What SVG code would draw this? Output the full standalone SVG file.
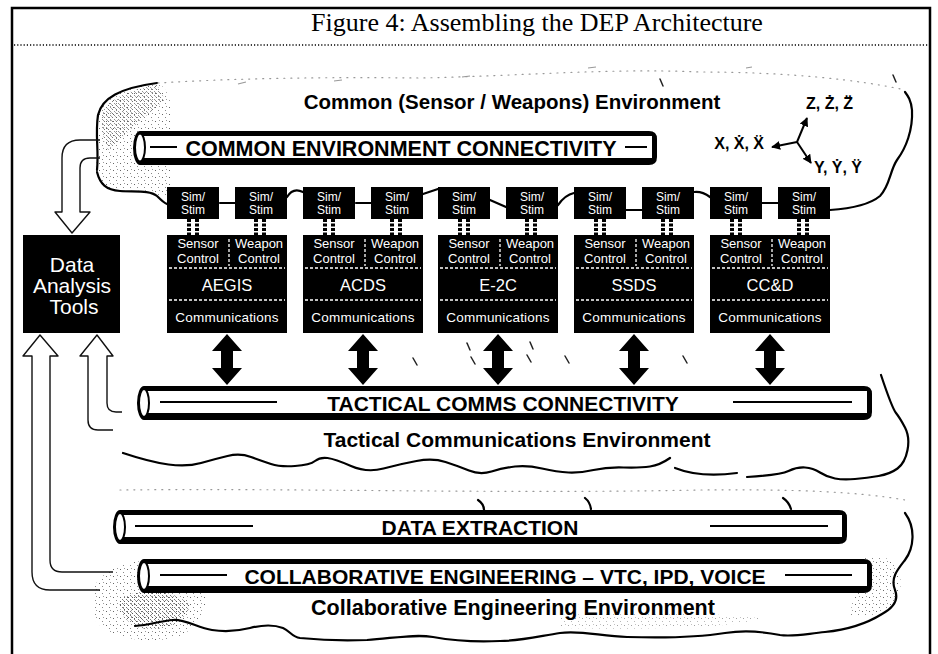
<svg xmlns="http://www.w3.org/2000/svg" width="938" height="654" viewBox="0 0 938 654">
<defs>
<style>
.blk{fill:#000}
.wt{fill:#fff;font-family:"Liberation Sans","DejaVu Sans",sans-serif;text-anchor:middle}
.sim{font-size:12px}
.ctl{font-size:13px}
.nm{font-size:16.5px}
.com{font-size:13.5px;letter-spacing:0.2px}
.wdash{stroke:#fff;stroke-width:1.3;stroke-dasharray:3 2;fill:none}
.stub{stroke:#000;stroke-width:4;stroke-dasharray:3 1.5}
.lbl{font-family:"Liberation Sans","DejaVu Sans",sans-serif;font-weight:bold;fill:#000;text-anchor:middle}
.pipe{fill:#000}
.pin{fill:#fff}
.pend{fill:#fff;stroke:#000;stroke-width:2}
.pline{stroke:#000;stroke-width:2}
.cloud{fill:none;stroke:#000;stroke-width:2.2;stroke-linecap:round;stroke-linejoin:round}
.dots{fill:none;stroke:#999;stroke-width:1.2;stroke-dasharray:1 6;stroke-linecap:round}
.tick{stroke:#222;stroke-width:1.5;stroke-linecap:round}
.hollow{fill:none;stroke:#111;stroke-width:1.4;stroke-linejoin:round}
.ax{stroke:#000;stroke-width:2;fill:none}
</style>
<pattern id="sp" width="7" height="7" patternUnits="userSpaceOnUse">
<rect x="1" y="2" width="1" height="1" fill="#666"/>
<rect x="4" y="5" width="1" height="1" fill="#888"/>
<rect x="5" y="1" width="1" height="1" fill="#999"/>
</pattern>
<pattern id="sp2" width="4" height="4" patternUnits="userSpaceOnUse">
<rect x="0" y="1" width="1" height="1" fill="#555"/>
<rect x="2" y="3" width="1" height="1" fill="#777"/>
<rect x="3" y="0" width="1" height="1" fill="#999"/>
</pattern>
<marker id="ah" viewBox="0 0 10 10" refX="9" refY="5" markerWidth="4.5" markerHeight="4.5" orient="auto">
<path d="M0,0 L10,5 L0,10 Z" fill="#000"/>
</marker>
</defs>
<rect width="938" height="654" fill="#fff"/>

<g id="frame">
<path d="M12,654 V8 H930 V654" fill="none" stroke="#000" stroke-width="2.5"/>
<line x1="14" y1="45" x2="928" y2="45" stroke="#000" stroke-width="1.3" stroke-dasharray="1.2 2"/>
<text x="537" y="31" style="font-family:'Liberation Serif','DejaVu Serif',serif;font-size:26px;text-anchor:middle;fill:#000">Figure 4: Assembling the DEP Architecture</text>
</g>

<g id="speckle">
<path d="M157,83 C130,86 104,95 98,112 C94,130 100,150 96,165 C95,178 102,188 118,190 C135,191 150,188 160,196 L172,196 L172,125 C172,100 168,88 157,83 Z" fill="url(#sp)"/>
<path d="M157,85 C128,90 106,100 102,115 C100,128 104,140 108,150 C120,140 140,120 165,100 Z" fill="url(#sp2)" opacity="0.8"/>
<path d="M95,585 C110,560 150,555 200,565 C215,590 205,625 180,636 C150,645 110,640 95,620 Z" fill="url(#sp)"/>
<path d="M120,600 C140,585 175,590 190,605 C185,625 160,632 140,628 C125,622 118,612 120,600 Z" fill="url(#sp2)"/>
<path d="M860,560 C880,550 905,560 900,590 C895,610 870,620 850,615 Z" fill="url(#sp)"/>
<path d="M560,615 C620,612 700,612 760,618 C740,628 650,630 560,628 Z" fill="url(#sp)" opacity="0.6"/>
<path d="M157,83 C120,88 102,98 98,115 C95,135 99,150 97,170" class="cloud" stroke="#444" stroke-width="1.4"/>
<path d="M158,83 C240,78 330,77 420,78 C520,76 610,68 700,72 C790,72 860,80 905,90" class="dots"/>
<path d="M120,490 C300,488 500,494 700,490 C800,489 860,492 905,500" class="dots"/>
<path d="M238,84 L246,82 M334,81 L342,80 M462,77 L470,76 M588,68 L596,67 M746,68 L752,67" stroke="#999" stroke-width="1.2"/>
</g>

<g id="clouds">
<path class="cloud" d="M97,172 C100,184 106,190 120,191 C135,192 150,190 157,196 C161,200 164,203 167,204"/>
<path class="cloud" d="M830,210 C845,209 868,206 880,196 C890,186 890,170 897,160 C906,148 913,130 912,110 C911,100 908,96 905,92"/>
<path class="cloud" d="M123,453 Q150,462 168.5,464.5 Q187,467 201,463 Q215,459 227.5,456 Q240,453 251,457 Q262,461 271,464 Q280,467 295,466 Q310,465 315,461 Q320,457 327.5,458 Q335,459 351,466 Q367,473 383.5,468.5 Q400,464 416.5,461 Q433,458 445.5,462 Q458,466 469,470.5 Q480,475 491.5,471.5 Q503,468 515,466.5 Q527,465 542,468.5 Q557,472 568.5,472.5 Q580,473 593.5,470 Q607,467 623.5,467.5 Q640,468 650,466.5 Q660,465 670,458"/>
<path class="cloud" d="M675,468 Q700,478 737,473"/>
<path class="cloud" d="M747,477 Q780,475 788.5,471 Q797,467 805,467.5 Q813,468 820,472.5 Q827,477 835,478.5 Q843,480 855,479 Q867,478 878.5,476 Q890,474 897.5,468.5 Q905,463 907.5,450 Q910,437 905,427.5 Q900,418 896,413 Q892,408 881,375"/>
<path class="cloud" d="M905,513 C916,528 914,548 905,560 C898,569 890,578 895,590 C899,600 893,608 882,614 C866,624 845,630 825,632 C805,634 793,637 780,635 C765,632 745,630 725,633 C700,637 660,638 627,637 C600,636 580,630 560,633 C540,636 520,641 500,641 C480,642 455,641 433,637 C415,634 395,638 367,640 C345,641 320,640 300,638 C292,637 290,631 283,628 C275,625 262,625 250,628 C238,631 225,632 212,630 C198,628 185,619 173,620 C160,621 150,625 135,626"/>
<path class="cloud" stroke-width="1.6" d="M478,500 Q484,504 484,510 M585,498 Q590,502 591,509 M783,498 Q789,502 791,509"/>
<line class="tick" x1="660" y1="79" x2="663" y2="86"/>
<line class="tick" x1="893" y1="75" x2="896" y2="82"/>
<line class="tick" x1="413" y1="358" x2="417" y2="365"/>
<line class="tick" x1="467" y1="343" x2="470" y2="350"/>
<line class="tick" x1="471" y1="357" x2="475" y2="364"/>
<line class="tick" x1="527" y1="355" x2="531" y2="362"/>
<line class="tick" x1="530" y1="342" x2="533" y2="349"/>
<line class="tick" x1="565" y1="356" x2="569" y2="363"/>
<line class="tick" x1="683" y1="356" x2="687" y2="363"/>
</g>

<text class="lbl" x="512" y="109" style="font-size:20.5px">Common (Sensor / Weapons) Environment</text>
<text class="lbl" x="517" y="447" style="font-size:21px">Tactical Communications Environment</text>
<text class="lbl" x="513" y="615" style="font-size:21.5px">Collaborative Engineering Environment</text>

<g id="pipe-common">
<path class="pipe" d="M140,131 H649 Q657,131 657,139 V157 Q657,165 649,165 H140 A7,17 0 0 1 140,131 Z"/>
<rect class="pin" x="141" y="136" width="511" height="22"/>
<ellipse class="pend" cx="140" cy="147.5" rx="5" ry="14"/>
<line class="pline" x1="150" y1="147" x2="177" y2="147"/>
<line class="pline" x1="625" y1="147" x2="647" y2="147"/>
<text class="lbl" x="401" y="155.5" style="font-size:21.5px">COMMON ENVIRONMENT CONNECTIVITY</text>
</g>
<g id="pipe-tactical">
<path class="pipe" d="M144,386 H864 Q872,386 872,394 V412 Q872,420 864,420 H144 A7,17 0 0 1 144,386 Z"/>
<rect class="pin" x="145" y="391" width="722" height="22"/>
<ellipse class="pend" cx="144" cy="403" rx="5" ry="14"/>
<line class="pline" x1="160" y1="402" x2="277" y2="402"/>
<line class="pline" x1="733" y1="402" x2="852" y2="402"/>
<text class="lbl" x="503" y="410.5" style="font-size:21px">TACTICAL COMMS CONNECTIVITY</text>
</g>
<g id="pipe-data">
<path class="pipe" d="M120,510 H839 Q847,510 847,518 V536 Q847,544 839,544 H120 A7,17 0 0 1 120,510 Z"/>
<rect class="pin" x="121" y="515" width="721" height="22"/>
<ellipse class="pend" cx="120" cy="527" rx="5" ry="14"/>
<line class="pline" x1="135" y1="526" x2="253" y2="526"/>
<line class="pline" x1="710" y1="526" x2="828" y2="526"/>
<text class="lbl" x="480" y="534.5" style="font-size:21px">DATA EXTRACTION</text>
</g>
<g id="pipe-collab">
<path class="pipe" d="M144,559 H864 Q872,559 872,567 V585 Q872,593 864,593 H144 A7,17 0 0 1 144,559 Z"/>
<rect class="pin" x="145" y="564" width="722" height="22"/>
<ellipse class="pend" cx="144" cy="576" rx="5" ry="14"/>
<line class="pline" x1="160" y1="575" x2="227" y2="575"/>
<line class="pline" x1="785" y1="575" x2="852" y2="575"/>
<text class="lbl" x="505" y="583.5" style="font-size:21px">COLLABORATIVE ENGINEERING – VTC, IPD, VOICE</text>
</g>

<g id="data-analysis-tools">
<rect class="blk" x="23" y="235" width="97" height="98"/>
<text class="wt" x="72" y="272" style="font-size:21px">Data</text>
<text class="wt" x="72" y="293" style="font-size:21px">Analysis</text>
<text class="wt" x="74" y="314" style="font-size:21px">Tools</text>
</g>

<g id="sys-aegis" transform="translate(167,0)">
<rect class="blk" x="0" y="187" width="52" height="32"/><rect class="blk" x="68" y="187" width="52" height="32"/>
<text class="wt sim" x="26" y="201">Sim/</text><text class="wt sim" x="26" y="214">Stim</text>
<text class="wt sim" x="94" y="201">Sim/</text><text class="wt sim" x="94" y="214">Stim</text>
<line class="stub" x1="22" y1="219" x2="22" y2="235"/><line class="stub" x1="30" y1="219" x2="30" y2="235"/>
<line class="stub" x1="89" y1="219" x2="89" y2="235"/><line class="stub" x1="97" y1="219" x2="97" y2="235"/>
<rect class="blk" x="0" y="235" width="120" height="98"/>
<text class="wt ctl" x="31" y="248">Sensor</text><text class="wt ctl" x="31" y="263">Control</text>
<text class="wt ctl" x="92" y="248">Weapon</text><text class="wt ctl" x="92" y="263">Control</text>
<line class="wdash" x1="62" y1="239" x2="62" y2="266"/>
<line class="wdash" x1="2" y1="268" x2="118" y2="268"/>
<text class="wt nm" x="60" y="291">AEGIS</text>
<line class="wdash" x1="2" y1="300" x2="118" y2="300"/>
<text class="wt com" x="60" y="322">Communications</text>
</g>
<g id="sys-acds" transform="translate(303,0)">
<rect class="blk" x="0" y="187" width="52" height="32"/><rect class="blk" x="68" y="187" width="52" height="32"/>
<text class="wt sim" x="26" y="201">Sim/</text><text class="wt sim" x="26" y="214">Stim</text>
<text class="wt sim" x="94" y="201">Sim/</text><text class="wt sim" x="94" y="214">Stim</text>
<line class="stub" x1="22" y1="219" x2="22" y2="235"/><line class="stub" x1="30" y1="219" x2="30" y2="235"/>
<line class="stub" x1="89" y1="219" x2="89" y2="235"/><line class="stub" x1="97" y1="219" x2="97" y2="235"/>
<rect class="blk" x="0" y="235" width="120" height="98"/>
<text class="wt ctl" x="31" y="248">Sensor</text><text class="wt ctl" x="31" y="263">Control</text>
<text class="wt ctl" x="92" y="248">Weapon</text><text class="wt ctl" x="92" y="263">Control</text>
<line class="wdash" x1="62" y1="239" x2="62" y2="266"/>
<line class="wdash" x1="2" y1="268" x2="118" y2="268"/>
<text class="wt nm" x="60" y="291">ACDS</text>
<line class="wdash" x1="2" y1="300" x2="118" y2="300"/>
<text class="wt com" x="60" y="322">Communications</text>
</g>
<g id="sys-e2c" transform="translate(438,0)">
<rect class="blk" x="0" y="187" width="52" height="32"/><rect class="blk" x="68" y="187" width="52" height="32"/>
<text class="wt sim" x="26" y="201">Sim/</text><text class="wt sim" x="26" y="214">Stim</text>
<text class="wt sim" x="94" y="201">Sim/</text><text class="wt sim" x="94" y="214">Stim</text>
<line class="stub" x1="22" y1="219" x2="22" y2="235"/><line class="stub" x1="30" y1="219" x2="30" y2="235"/>
<line class="stub" x1="89" y1="219" x2="89" y2="235"/><line class="stub" x1="97" y1="219" x2="97" y2="235"/>
<rect class="blk" x="0" y="235" width="120" height="98"/>
<text class="wt ctl" x="31" y="248">Sensor</text><text class="wt ctl" x="31" y="263">Control</text>
<text class="wt ctl" x="92" y="248">Weapon</text><text class="wt ctl" x="92" y="263">Control</text>
<line class="wdash" x1="62" y1="239" x2="62" y2="266"/>
<line class="wdash" x1="2" y1="268" x2="118" y2="268"/>
<text class="wt nm" x="60" y="291">E-2C</text>
<line class="wdash" x1="2" y1="300" x2="118" y2="300"/>
<text class="wt com" x="60" y="322">Communications</text>
</g>
<g id="sys-ssds" transform="translate(574,0)">
<rect class="blk" x="0" y="187" width="52" height="32"/><rect class="blk" x="68" y="187" width="52" height="32"/>
<text class="wt sim" x="26" y="201">Sim/</text><text class="wt sim" x="26" y="214">Stim</text>
<text class="wt sim" x="94" y="201">Sim/</text><text class="wt sim" x="94" y="214">Stim</text>
<line class="stub" x1="22" y1="219" x2="22" y2="235"/><line class="stub" x1="30" y1="219" x2="30" y2="235"/>
<line class="stub" x1="89" y1="219" x2="89" y2="235"/><line class="stub" x1="97" y1="219" x2="97" y2="235"/>
<rect class="blk" x="0" y="235" width="120" height="98"/>
<text class="wt ctl" x="31" y="248">Sensor</text><text class="wt ctl" x="31" y="263">Control</text>
<text class="wt ctl" x="92" y="248">Weapon</text><text class="wt ctl" x="92" y="263">Control</text>
<line class="wdash" x1="62" y1="239" x2="62" y2="266"/>
<line class="wdash" x1="2" y1="268" x2="118" y2="268"/>
<text class="wt nm" x="60" y="291">SSDS</text>
<line class="wdash" x1="2" y1="300" x2="118" y2="300"/>
<text class="wt com" x="60" y="322">Communications</text>
</g>
<g id="sys-ccd" transform="translate(710,0)">
<rect class="blk" x="0" y="187" width="52" height="32"/><rect class="blk" x="68" y="187" width="52" height="32"/>
<text class="wt sim" x="26" y="201">Sim/</text><text class="wt sim" x="26" y="214">Stim</text>
<text class="wt sim" x="94" y="201">Sim/</text><text class="wt sim" x="94" y="214">Stim</text>
<line class="stub" x1="22" y1="219" x2="22" y2="235"/><line class="stub" x1="30" y1="219" x2="30" y2="235"/>
<line class="stub" x1="89" y1="219" x2="89" y2="235"/><line class="stub" x1="97" y1="219" x2="97" y2="235"/>
<rect class="blk" x="0" y="235" width="120" height="98"/>
<text class="wt ctl" x="31" y="248">Sensor</text><text class="wt ctl" x="31" y="263">Control</text>
<text class="wt ctl" x="92" y="248">Weapon</text><text class="wt ctl" x="92" y="263">Control</text>
<line class="wdash" x1="62" y1="239" x2="62" y2="266"/>
<line class="wdash" x1="2" y1="268" x2="118" y2="268"/>
<text class="wt nm" x="60" y="291">CC&amp;D</text>
<line class="wdash" x1="2" y1="300" x2="118" y2="300"/>
<text class="wt com" x="60" y="322">Communications</text>
</g>

<g id="axes">
<line class="ax" x1="797" y1="142" x2="807" y2="118" marker-end="url(#ah)"/>
<line class="ax" x1="797" y1="142" x2="772" y2="147" marker-end="url(#ah)"/>
<line class="ax" x1="797" y1="142" x2="811" y2="163" marker-end="url(#ah)"/>
<text class="lbl" x="806" y="109" style="font-size:16px;text-anchor:start">Z, Ż, Z̈</text>
<text class="lbl" x="764" y="149" style="font-size:16px;text-anchor:end">X, Ẋ, Ẍ</text>
<text class="lbl" x="814" y="173" style="font-size:16px;text-anchor:start">Y, Ẏ, Ÿ</text>
</g>

<g id="connectors">
<path class="cloud" d="M220,203 L235,203"/>
<path class="cloud" d="M287,197 Q293,187 303,192"/>
<path class="cloud" d="M356,203 L371,203"/>
<path class="cloud" d="M423,194 L438,189"/>
<path class="cloud" d="M490,200 L506,207"/>
<path class="cloud" d="M558,205 Q565,195 574,193"/>
<path class="cloud" d="M626,210 L642,210"/>
<path class="cloud" d="M694,192 Q702,191 710,197"/>
<path class="cloud" d="M762,203 L778,203"/>
<g class="blk">
<polygon points="227,334 242,351 233,351 233,368 242,368 227,385 212,368 221,368 221,351 212,351"/>
<polygon points="363,334 378,351 369,351 369,368 378,368 363,385 348,368 357,368 357,351 348,351"/>
<polygon points="498,334 513,351 504,351 504,368 513,368 498,385 483,368 492,368 492,351 483,351"/>
<polygon points="634,334 649,351 640,351 640,368 649,368 634,385 619,368 628,368 628,351 619,351"/>
<polygon points="770,334 785,351 776,351 776,368 785,368 770,385 755,368 764,368 764,351 755,351"/>
</g>
<path class="hollow" d="M100,140 H80 Q62,140 62,158 V212 H55 L72,233 L90,212 H80 V168 Q80,158 90,158 H100"/>
<path class="hollow" d="M113,430 H98 Q88,430 88,420 V356 H80 L97,335 L113,356 H107 V403 Q107,412 116,412 H122"/>
<path class="hollow" d="M100,590 H50 Q32,590 32,572 V356 H23 L40,335 L58,356 H50 V560 Q50,572 62,572 H113"/>
</g>
</svg>
